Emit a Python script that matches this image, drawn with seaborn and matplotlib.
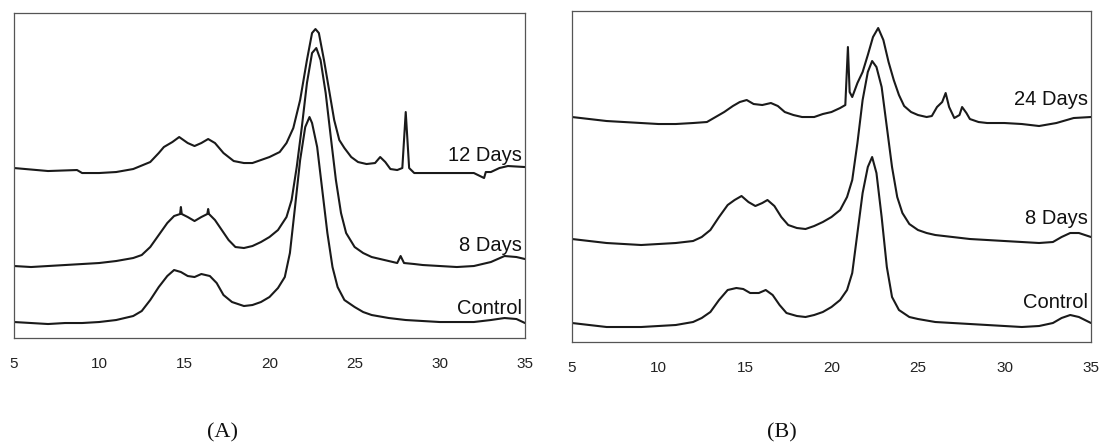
import pandas as pd
import matplotlib
matplotlib.use("Agg")
import matplotlib.pyplot as plt
import seaborn as sns

# ------------------------------------------ DATA -------------------------------------#
# intensities are arbitrary units (height above the x axis)
a_12d_x = [5, 7, 8.7, 9, 10, 11, 12, 13, 13.5, 13.8, 14.3, 14.7, 15.2, 15.6, 16, 16.4, 16.8, 17.3, 17.9,
           18.5, 19, 19.5, 20, 20.6, 21, 21.4, 21.8, 22.0, 22.2, 22.5, 22.7, 22.9, 23.2, 23.5, 23.8, 24.1,
           24.4, 24.8, 25.2, 25.7, 26.2, 26.5, 26.8, 27.1, 27.5, 27.8, 28.0, 28.2, 28.5, 30, 31, 32, 32.6,
           32.7, 33, 33.5, 34, 35]
a_12d_y = [170, 167, 168, 165, 165, 166, 169, 176, 185, 191, 196, 201, 195, 192, 195, 199, 195, 185, 177,
           175, 175, 178, 181, 186, 195, 210, 238, 258, 278, 305, 309, 305, 278, 248, 218, 198,
           190, 181, 176, 174, 175, 181, 176, 169, 168, 170, 226, 170, 165, 165, 165, 165, 160,
           166, 166, 170, 172, 171]

a_8d_x = [5, 6, 7, 8, 9, 10, 11, 12, 12.5, 13, 13.5, 14, 14.4, 14.75, 14.8, 14.85, 15.2, 15.6, 16,
          16.35, 16.4, 16.45, 16.8, 17.2, 17.6, 18, 18.5, 19, 19.5, 20, 20.5, 21, 21.3, 21.6, 21.9, 22.2,
          22.5, 22.75, 23.0, 23.3, 23.6, 23.9, 24.2, 24.5, 25, 25.5, 26, 26.5, 27, 27.5, 27.7, 27.9,
          28.5, 29, 30, 31, 32, 33, 33.8, 34.5, 35]
a_8d_y = [72, 71, 72, 73, 74, 75, 77, 80, 83, 91, 103, 115, 122, 124, 131, 124, 121, 117, 121,
          124, 129, 124, 118, 108, 98, 91, 90, 92, 96, 101, 108, 121, 138, 171, 211, 255,
          285, 290, 278, 245, 201, 158, 125, 105, 91, 85, 81, 79, 77, 75, 82, 75,
          74, 73, 72, 71, 72, 76, 82, 81, 79]

a_ctl_x = [5, 6, 7, 8, 9, 10, 11, 12, 12.5, 13, 13.5, 14, 14.4, 14.8, 15.2, 15.6, 16, 16.5, 16.9, 17.3,
           17.8, 18.5, 19, 19.5, 20, 20.5, 20.9, 21.2, 21.5, 21.8, 22.1, 22.35, 22.5, 22.8, 23.1, 23.4,
           23.7, 24.0, 24.4, 25, 25.5, 26, 27, 28, 29, 30, 31, 32, 33, 33.8, 34.5, 35]
a_ctl_y = [16, 15, 14, 15, 15, 16, 18, 22, 27, 38, 51, 62, 68, 66, 62, 61, 64, 62, 55, 43,
           36, 32, 33, 36, 41, 50, 61, 85, 131, 178, 211, 221, 215, 191, 148, 105,
           71, 51, 38, 31, 26, 23, 20, 18, 17, 16, 16, 16, 18, 20, 19, 15]

b_24d_x = [5, 6, 7, 8, 9, 10, 11, 12, 12.8, 13.3, 13.8, 14.3, 14.7, 15.1, 15.5, 16, 16.5, 16.9, 17.3,
           17.8, 18.3, 19, 19.5, 20, 20.5, 20.8, 20.95, 21.05, 21.2, 21.5, 21.8, 22.1, 22.4, 22.7, 23.0,
           23.3, 23.6, 23.9, 24.2, 24.6, 25, 25.5, 25.8, 26.1, 26.4, 26.6, 26.8, 27.1, 27.4, 27.55,
           27.8, 28.0, 28.5, 29, 30, 31, 31.5, 32, 33, 34, 35]
b_24d_y = [225, 223, 221, 220, 219, 218, 218, 219, 220, 225, 230, 236, 240, 242, 238, 237, 239, 236, 230,
           227, 225, 225, 228, 230, 234, 237, 295, 250, 245, 259, 270, 287, 305, 314, 302,
           280, 262, 247, 236, 230, 227, 225, 226, 235, 240, 249, 235, 224, 227, 235,
           229, 223, 220, 219, 219, 218, 217, 216, 219, 224, 225]

b_8d_x = [5, 6, 7, 8, 9, 10, 11, 12, 12.5, 13, 13.5, 14, 14.4, 14.8, 15.2, 15.6, 16.0, 16.3, 16.7,
          17.1, 17.5, 18, 18.5, 19, 19.5, 20, 20.5, 20.9, 21.2, 21.5, 21.8, 22.1, 22.35, 22.6, 22.9,
          23.2, 23.5, 23.8, 24.1, 24.5, 25, 25.5, 26, 27, 28, 29, 30, 31, 32, 32.8, 33.3, 33.8, 34.3, 35]
b_8d_y = [103, 101, 99, 98, 97, 98, 99, 101, 105, 112, 125, 137, 142, 146, 140, 136, 139, 142, 136,
          125, 117, 114, 113, 116, 120, 125, 132, 145, 162, 199, 242, 270, 281, 275, 255,
          215, 175, 145, 129, 118, 112, 109, 107, 105, 103, 102, 101, 100, 99, 100, 105, 109, 109, 105]

b_ctl_x = [5, 6, 7, 8, 9, 10, 11, 12, 12.5, 13, 13.5, 14, 14.5, 14.9, 15.3, 15.8, 16.2, 16.6, 17.0,
           17.4, 18, 18.5, 19, 19.5, 20, 20.5, 20.9, 21.2, 21.5, 21.8, 22.1, 22.35, 22.6, 22.9, 23.2,
           23.5, 23.9, 24.5, 25, 26, 27, 28, 29, 30, 31, 32, 32.8, 33.3, 33.8, 34.3, 35]
b_ctl_y = [19, 17, 15, 15, 15, 16, 17, 20, 24, 30, 42, 52, 54, 53, 49, 49, 52, 47, 37,
           29, 26, 25, 27, 30, 35, 42, 52, 69, 109, 149, 175, 185, 169, 125, 75,
           45, 32, 25, 23, 20, 19, 18, 17, 16, 15, 16, 19, 24, 27, 25, 19]

x_ticks = [5, 10, 15, 20, 25, 30, 35]

# ------------------------------------------ PLOT ------------------------------------------------------------#
sns.set_style("white")
plt.rcParams['font.family'] = ['Liberation Sans', 'DejaVu Sans']

fig = plt.figure(figsize=(11.01, 4.48), dpi=100)
ax_a = fig.add_axes([0.0127, 0.2455, 0.4641, 0.7254])
ax_b = fig.add_axes([0.5195, 0.2366, 0.4714, 0.7388])

panel_a = [(a_12d_x, a_12d_y, '12 Days', 183), (a_8d_x, a_8d_y, '8 Days', 93), (a_ctl_x, a_ctl_y, 'Control', 30)]
panel_b = [(b_24d_x, b_24d_y, '24 Days', 243), (b_8d_x, b_8d_y, '8 Days', 124), (b_ctl_x, b_ctl_y, 'Control', 40)]

for ax, curves, ytop in [(ax_a, panel_a, 325), (ax_b, panel_b, 331)]:
    for xs, ys, lab, ylab in curves:
        df = pd.DataFrame({'2theta': xs, 'I': ys})
        sns.lineplot(data=df, x='2theta', y='I', ax=ax, color='#1a1a1a', linewidth=1.5,
                     estimator=None, sort=False)
        ax.text(34.8, ylab, lab, ha='right', va='center', fontsize=14.5, color='#111111')
    ax.set_xlim(5, 35)
    ax.set_ylim(0, ytop)
    ax.set_xticks(x_ticks)
    ax.set_xticklabels([str(t) for t in x_ticks])
    ax.set_yticks([])
    ax.set_xlabel('')
    ax.set_ylabel('')
    ax.tick_params(axis='x', direction='in', length=4, width=0.8, color='#444444',
                   labelsize=11, pad=14, labelcolor='#222222')
    for s in ax.spines.values():
        s.set_color('#555555')
        s.set_linewidth(0.9)
        s.set_visible(True)

fig.text(223 / 1101, 1 - 433 / 448, '(A)', ha='center', va='center', fontsize=16,
         family=['Liberation Serif', 'DejaVu Serif'], color='#111111')
fig.text(782 / 1101, 1 - 433 / 448, '(B)', ha='center', va='center', fontsize=16,
         family=['Liberation Serif', 'DejaVu Serif'], color='#111111')

fig.savefig('out.png', dpi=100)
